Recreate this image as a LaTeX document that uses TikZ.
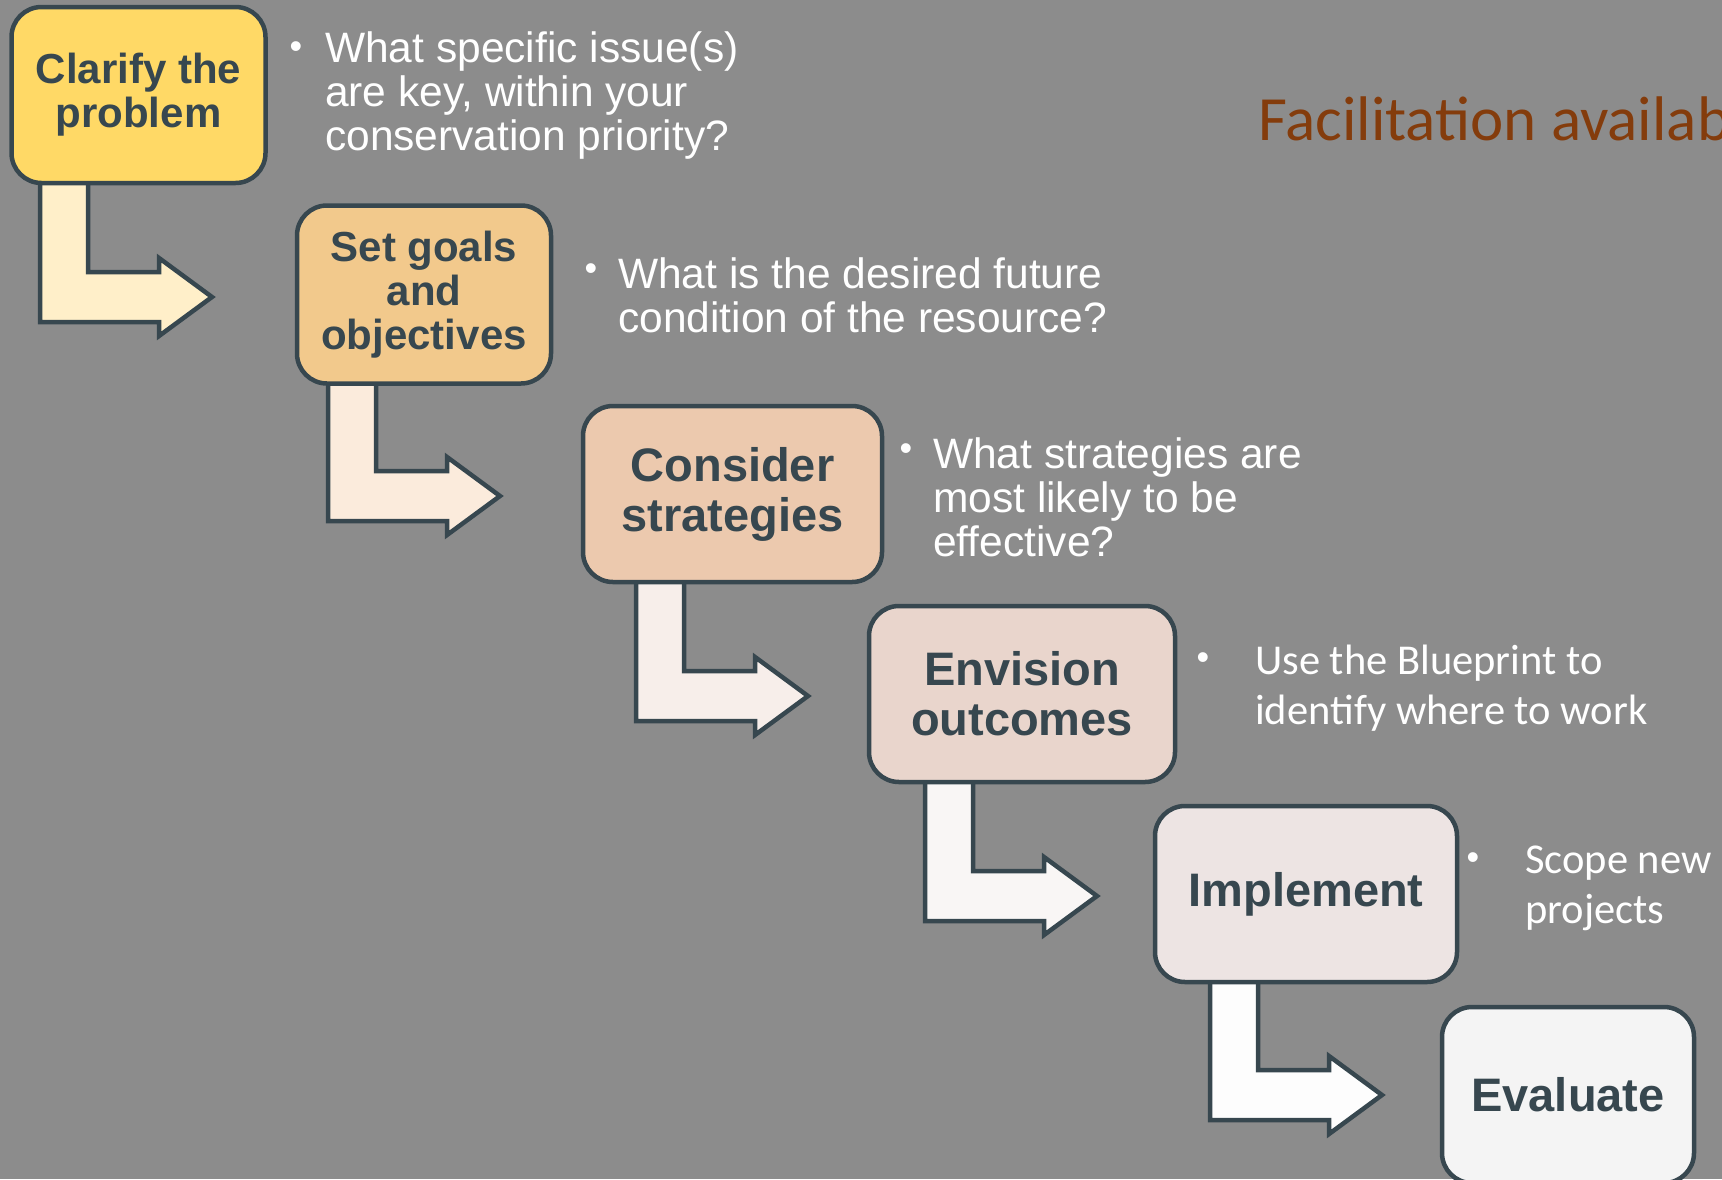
\documentclass[tikz,border=0pt]{standalone}
\usepackage{fontspec}
\setmainfont{Liberation Sans}
\newfontfamily\calfont{Carlito}
\usetikzlibrary{calc}
\pgfdeclarelayer{bglayer}
\pgfdeclarelayer{arrowlayer}
\pgfsetlayers{bglayer,arrowlayer,main}
\definecolor{bgcol}{HTML}{8C8C8C}
\definecolor{edgecol}{HTML}{37474F}
\definecolor{titlecol}{HTML}{843C0C}
\definecolor{boxa}{HTML}{FFD966}
\definecolor{boxb}{HTML}{F2C98C}
\definecolor{boxc}{HTML}{ECC9AE}
\definecolor{boxd}{HTML}{E9D5CC}
\definecolor{boxe}{HTML}{EDE4E3}
\definecolor{boxf}{HTML}{F4F4F4}
\definecolor{arra}{HTML}{FFEFC9}
\definecolor{arrb}{HTML}{FBEBDC}
\definecolor{arrc}{HTML}{F7EEEA}
\definecolor{arrd}{HTML}{F9F6F5}
\definecolor{arre}{HTML}{FDFDFD}
\tikzset{
  stepbox/.style={draw=edgecol, line width=4.5pt, rounded corners=30pt,
    text=edgecol, align=center, inner sep=0pt, minimum height=176pt,
    font=\bfseries\fontsize{47}{50}\selectfont},
  smallstep/.style={font=\bfseries\fontsize{42}{44}\selectfont},
  bentarrowstyle/.style={draw=edgecol, line width=4.5pt, line join=miter},
  note/.style={text=white, align=left, anchor=west, inner sep=0pt,
    font=\fontsize{42.5}{44}\selectfont},
  calnote/.style={text=white, align=left, anchor=west, inner sep=0pt,
    font=\calfont\fontsize{42.5}{50}\selectfont},
  bulletmark/.style={text=white, inner sep=0pt, font=\fontsize{36}{36}\selectfont}
}
\newcommand\bentarrow[3]{%
  \path[bentarrowstyle, fill=#3] let \p1=(#2), \p2=(#1.south) in
    (\x1-172pt,\y2+6pt) -- (\x1-124pt,\y2+6pt) -- (\x1-124pt,\y1+25pt)
    -- (\x1-53pt,\y1+25pt) -- (\x1-53pt,\y1+39pt) -- (\x1,\y1)
    -- (\x1-53pt,\y1-39pt) -- (\x1-53pt,\y1-25pt) -- (\x1-172pt,\y1-25pt) -- cycle;}
\begin{document}
\begin{tikzpicture}[x=1pt,y=-1pt]
\begin{pgfonlayer}{bglayer}
\fill[bgcol] (0,0) rectangle (1722,1179);
\end{pgfonlayer}
\useasboundingbox (0,0) rectangle (1722,1179);
\clip (0,0) rectangle (1722,1179);

% boxes
\node[stepbox, smallstep, fill=boxa, minimum width=254pt] (s1) at (138.5,95) {Clarify the\\problem};
\node[stepbox, smallstep, fill=boxb, minimum width=254pt, minimum height=178pt] (s2) at (424,294.5) {Set goals\\and\\objectives};
\node[stepbox, fill=boxc, minimum width=299pt] (s3) at (732.5,494) {Consider\\strategies};
\node[stepbox, fill=boxd, minimum width=306pt] (s4) at (1022,694) {Envision\\outcomes};
\node[stepbox, fill=boxe, minimum width=302pt] (s5) at (1306,894) {Implement};
\node[stepbox, fill=boxf, minimum width=252pt] (s6) at (1568,1095) {Evaluate};

% arrow tips
\coordinate (tip1) at (212,297);
\coordinate (tip2) at (500,496);
\coordinate (tip3) at (808,696);
\coordinate (tip4) at (1097,896);
\coordinate (tip5) at (1382,1095);

\begin{pgfonlayer}{arrowlayer}
\bentarrow{s1}{tip1}{arra}
\bentarrow{s2}{tip2}{arrb}
\bentarrow{s3}{tip3}{arrc}
\bentarrow{s4}{tip4}{arrd}
\bentarrow{s5}{tip5}{arre}
\end{pgfonlayer}

% notes
\node[bulletmark] (b1) at (296,50) {•};
\node[note] (n1) at (325,96) {What specific issue(s)\\are key, within your\\conservation priority?};
\node[bulletmark] (b2) at (591,272) {•};
\node[note] (n2) at (618,295) {What is the desired future\\condition of the resource?};
\node[bulletmark] (b3) at (906,452) {•};
\node[note] (n3) at (933,497) {What strategies are\\most likely to be\\effective?};
\node[bulletmark] (b4) at (1203,661) {•};
\node[calnote] (n4) at (1255,688) {Use the Blueprint to\\identify where to work};
\node[bulletmark] (b5) at (1473,861) {•};
\node[calnote] (n5) at (1525,888) {Scope new\\projects};

% title
\node[anchor=base west, inner sep=0pt, text=titlecol, font=\calfont\fontsize{63}{70}\selectfont] (title) at (1258,140) {Facilitation availab};
\end{tikzpicture}
\end{document}
